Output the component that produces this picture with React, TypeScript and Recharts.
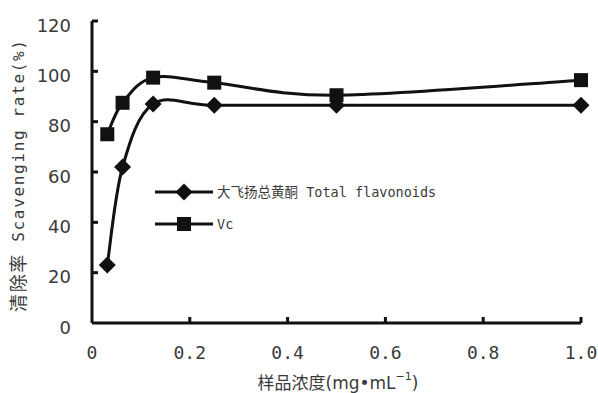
import React from "react";
import { Line, LineChart, XAxis, YAxis } from "recharts";

const concentrations = [0.03125, 0.0625, 0.125, 0.25, 0.5, 1.0];
const flavonoids = [23, 62, 87, 86.5, 86.5, 86.5];
const vitaminC = [75, 87.5, 97.5, 95.5, 90.5, 96.5];
const xTicks = [0, 0.2, 0.4, 0.6, 0.8, 1.0];
const yTicks = [0, 20, 40, 60, 80, 100, 120];
const seriesNames = ["大飞扬总黄酮 Total flavonoids", "Vc"];

const data = concentrations.map((c, i) => ({
  c,
  flavonoids: flavonoids[i],
  vc: vitaminC[i],
}));

const INK = "#111";
const TEXT = "#3a3a3a";
const SANS = "'DejaVu Sans', 'Noto Sans CJK SC', sans-serif";
const MONO = "'DejaVu Sans Mono', 'Noto Sans CJK SC', monospace";

// Excel-style smoothing: cubic bezier with control points from neighbours / 6
function smoothCurve(context: any) {
  let pts: [number, number][] = [];
  return {
    areaStart() {},
    areaEnd() {},
    lineStart() {
      pts = [];
    },
    point(x: number, y: number) {
      pts.push([+x, +y]);
    },
    lineEnd() {
      if (!pts.length) return;
      context.moveTo(pts[0][0], pts[0][1]);
      for (let i = 0; i < pts.length - 1; i++) {
        const p0 = pts[Math.max(i - 1, 0)];
        const p1 = pts[i];
        const p2 = pts[i + 1];
        const p3 = pts[Math.min(i + 2, pts.length - 1)];
        context.bezierCurveTo(
          p1[0] + (p2[0] - p0[0]) / 6,
          p1[1] + (p2[1] - p0[1]) / 6,
          p2[0] - (p3[0] - p1[0]) / 6,
          p2[1] - (p3[1] - p1[1]) / 6,
          p2[0],
          p2[1],
        );
      }
    },
  };
}

function Diamond({ cx, cy }: { cx?: number; cy?: number }) {
  if (cx == null || cy == null) return null;
  const r = 8.5;
  return (
    <path
      d={`M${cx},${cy - r}L${cx + r},${cy}L${cx},${cy + r}L${cx - r},${cy}Z`}
      fill={INK}
    />
  );
}

function Square({ cx, cy }: { cx?: number; cy?: number }) {
  if (cx == null || cy == null) return null;
  const r = 7;
  return <rect x={cx - r} y={cy - r} width={r * 2} height={r * 2} fill={INK} />;
}

function XTick({ x, y, payload }: any) {
  const v = payload.value as number;
  const label = v === 0 ? "0" : v.toFixed(1);
  const axisY = y - 29;
  return (
    <g>
      {v > 0 && <line x1={x} x2={x} y1={axisY} y2={axisY - 6} stroke={INK} strokeWidth={3} />}
      <text
        x={x}
        y={y}
        textAnchor="middle"
        dominantBaseline="central"
        fontSize={18}
        fontFamily={MONO}
        fill={TEXT}
      >
        {label}
      </text>
    </g>
  );
}

function YTick({ x, y, payload }: any) {
  const v = payload.value as number;
  const axisX = x + 21;
  return (
    <g>
      {v > 0 && <line x1={axisX} x2={axisX + 6} y1={y} y2={y} stroke={INK} strokeWidth={3} />}
      <text
        x={x}
        y={y + 4}
        textAnchor="end"
        dominantBaseline="central"
        fontSize={18}
        fontFamily={SANS}
        fill={TEXT}
      >
        {v}
      </text>
    </g>
  );
}

function ChartLegend() {
  const items = [
    { name: seriesNames[0], Marker: Diamond },
    { name: seriesNames[1], Marker: Square },
  ];
  return (
    <svg width={320} height={60} style={{ position: "absolute", left: 153, top: 180 }}>
      {items.map(({ name, Marker }, i) => {
        const y = 12 + i * 32;
        return (
          <g key={name}>
            <line x1={2} x2={60} y1={y} y2={y} stroke={INK} strokeWidth={3} />
            <Marker cx={31} cy={y} />
            <text
              x={64}
              y={y}
              dominantBaseline="central"
              fontSize={13.5}
              fontFamily={MONO}
              fill={TEXT}
            >
              {name}
            </text>
          </g>
        );
      })}
    </svg>
  );
}

export default function App() {
  return (
    <div style={{ position: "fixed", left: 0, top: 0, width: 598, height: 393, background: "#fff" }}>
      <LineChart
        width={598}
        height={393}
        data={data}
        margin={{ top: 21, right: 17, bottom: 0, left: 0 }}
      >
        <XAxis
          dataKey="c"
          type="number"
          domain={[0, 1]}
          ticks={xTicks}
          height={70}
          axisLine={{ stroke: INK, strokeWidth: 3 }}
          tickLine={false}
          tickSize={0}
          tickMargin={29}
          tick={<XTick />}
          interval={0}
          label={{
            content: () => (
              <text
                x={338}
                y={383}
                textAnchor="middle"
                dominantBaseline="central"
                fontSize={17}
                fontFamily={SANS}
                fill={TEXT}
              >
                样品浓度(mg•mL
                <tspan dy={-7} fontSize={11}>
                  −1
                </tspan>
                <tspan dy={7}>)</tspan>
              </text>
            ),
          }}
        />
        <YAxis
          type="number"
          domain={[0, 120]}
          ticks={yTicks}
          width={92}
          axisLine={{ stroke: INK, strokeWidth: 3 }}
          tickLine={false}
          tickSize={0}
          tickMargin={21}
          tick={<YTick />}
          interval={0}
          label={{
            content: () => (
              <text
                x={18}
                y={176}
                transform="rotate(-90, 18, 176)"
                textAnchor="middle"
                dominantBaseline="central"
                fontSize={16}
                fontFamily={MONO}
                fill={TEXT}
                textLength={272}
                lengthAdjust="spacing"
              >
                <tspan fontSize={18}>清除率</tspan> Scavenging rate(%)
              </text>
            ),
          }}
        />
        <Line
          dataKey="flavonoids"
          name={seriesNames[0]}
          type={smoothCurve as any}
          stroke={INK}
          strokeWidth={3}
          dot={<Diamond />}
          activeDot={false}
          isAnimationActive={false}
        />
        <Line
          dataKey="vc"
          name={seriesNames[1]}
          type={smoothCurve as any}
          stroke={INK}
          strokeWidth={3}
          dot={<Square />}
          activeDot={false}
          isAnimationActive={false}
        />
      </LineChart>
      <ChartLegend />
    </div>
  );
}
